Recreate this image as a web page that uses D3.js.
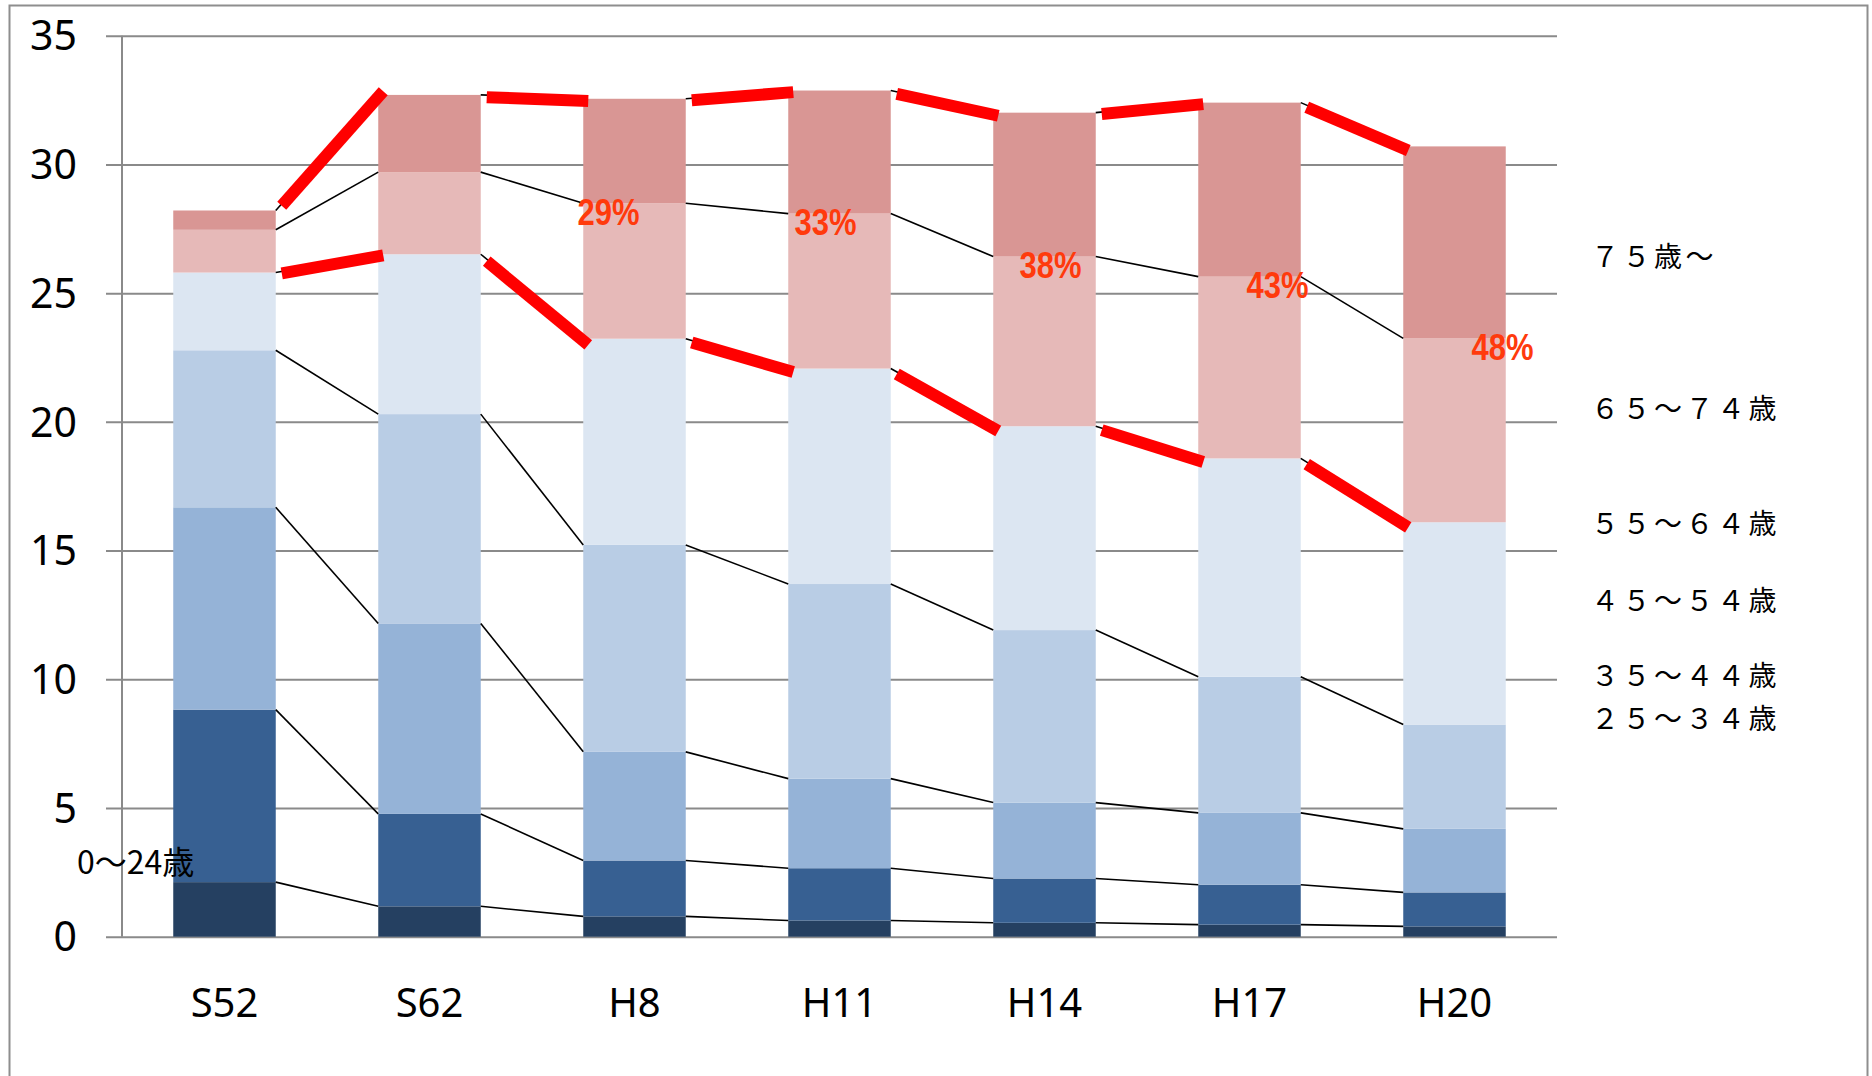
<!DOCTYPE html>
<html>
<head>
<meta charset="utf-8">
<script src="https://cdn.jsdelivr.net/npm/d3@7"></script>
<style>
  html, body { margin: 0; padding: 0; background: #fff; }
  svg { display: block; }
</style>
</head>
<body>
<svg id="chart" width="1872" height="1076"></svg>
<script>
// Survey years (Japanese era notation)
const years = ["S52", "S62", "H8", "H11", "H14", "H17", "H20"];

// Age groups, bottom of each stack to top
const ageGroups = ["0～24歳", "25～34歳", "35～44歳", "45～54歳", "55～64歳", "65～74歳", "75歳～"];

// Values per age group for each year
const age0to24   = [2.12, 1.18, 0.79, 0.63, 0.54, 0.47, 0.40];
const age25to34  = [6.70, 3.59, 2.17, 2.03, 1.72, 1.55, 1.32];
const age35to44  = [7.86, 7.40, 4.22, 3.48, 2.95, 2.79, 2.47];
const age45to54  = [6.10, 8.13, 8.04, 7.56, 6.70, 5.29, 4.05];
const age55to64  = [3.02, 6.21, 8.01, 8.37, 7.92, 8.48, 7.86];
const age65to74  = [1.66, 3.19, 5.26, 6.02, 6.59, 7.06, 7.14];
const age75plus  = [0.75, 3.00, 4.06, 4.78, 5.59, 6.76, 7.46];

// Y axis ticks
const yTicks = [0, 5, 10, 15, 20, 25, 30, 35];

// Years that carry a 65+ share label
const shareYears = ["H8", "H11", "H14", "H17", "H20"];

// Right-hand group captions (top to bottom) and the caption beside the first bar
const sideCaptions = ["７５歳～", "６５～７４歳", "５５～６４歳", "４５～５４歳", "３５～４４歳", "２５～３４歳"];
const firstBarCaption = "0～24歳";

// ---------- layout ----------
const colors = ["#254061", "#376092", "#95b3d7", "#b9cde5", "#dce6f2", "#e6b9b8", "#d99694"];
const plot = { left: 122, right: 1557, top: 35.7, bottom: 936.7 };
const shareDx = [-26, -14, 6, 28, 48];               // horizontal nudge for each share label
const sideCaptionY = [267, 419, 534, 611, 686, 729];  // baselines of the right-hand captions

const seriesArrays = [age0to24, age25to34, age35to44, age45to54, age55to64, age65to74, age75plus];
const table = years.map((yr, i) => {
  const row = { year: yr };
  ageGroups.forEach((g, k) => { row[g] = seriesArrays[k][i]; });
  return row;
});

const svg = d3.select("#chart");

const x = d3.scaleBand()
  .domain(years)
  .range([plot.left, plot.right])
  .paddingInner(0.5)
  .paddingOuter(0.25);

const y = d3.scaleLinear()
  .domain([0, 35])
  .range([plot.bottom, plot.top]);

// outer frame
svg.append("rect")
  .attr("x", 9.5).attr("y", 5.5)
  .attr("width", 1858).attr("height", 1100)
  .attr("fill", "none")
  .attr("stroke", "#8e8e8e")
  .attr("stroke-width", 2);

// gridlines with outside tick marks
const yAxis = d3.axisLeft(y)
  .tickValues(yTicks)
  .tickSize(-(plot.right - plot.left))
  .tickFormat("");
const gGrid = svg.append("g")
  .attr("transform", `translate(${plot.left},0)`)
  .call(yAxis);
gGrid.select(".domain").remove();
gGrid.selectAll(".tick line")
  .attr("x1", -16)
  .attr("stroke", "#8a8a8a")
  .attr("stroke-width", 2);

// vertical axis line
svg.append("line")
  .attr("x1", plot.left).attr("x2", plot.left)
  .attr("y1", y(35)).attr("y2", y(0))
  .attr("stroke", "#8a8a8a")
  .attr("stroke-width", 2);

// tick labels
svg.append("g").selectAll("text")
  .data(yTicks)
  .join("text")
  .attr("x", 77)
  .attr("y", d => y(d))
  .attr("dy", "0.36em")
  .attr("text-anchor", "end")
  .attr("font-family", "'Noto Sans', 'Open Sans', sans-serif")
  .attr("font-size", 41)
  .attr("fill", "#000")
  .text(d => d);

// stacked bars
const stack = d3.stack().keys(ageGroups);
const layers = stack(table);

svg.append("g").selectAll("g")
  .data(layers)
  .join("g")
  .attr("fill", (d, i) => colors[i])
  .selectAll("rect")
  .data(d => d)
  .join("rect")
  .attr("x", d => x(d.data.year))
  .attr("width", x.bandwidth())
  .attr("y", d => y(d[1]))
  .attr("height", d => y(d[0]) - y(d[1]));

// thin connectors between the segment boundaries of neighbouring bars
const gConn = svg.append("g")
  .attr("stroke", "#000")
  .attr("stroke-width", 1.6)
  .attr("fill", "none");
layers.forEach(layer => {
  for (let i = 0; i < years.length - 1; i++) {
    gConn.append("line")
      .attr("x1", x(years[i]) + x.bandwidth())
      .attr("y1", y(layer[i][1]))
      .attr("x2", x(years[i + 1]))
      .attr("y2", y(layer[i + 1][1]));
  }
});

// bold red trend lines: total and 65+ boundary
const totalLayer = layers[layers.length - 1];
const elderBase = layers[4];
const gRed = svg.append("g")
  .attr("stroke", "#ff0000")
  .attr("stroke-width", 12)
  .attr("stroke-linecap", "butt");
[totalLayer, elderBase].forEach(layer => {
  for (let i = 0; i < years.length - 1; i++) {
    const xa = x(years[i]) + x.bandwidth();
    const xb = x(years[i + 1]);
    const ya = y(layer[i][1]);
    const yb = y(layer[i + 1][1]);
    const at = xx => ya + (yb - ya) * (xx - xa) / (xb - xa);
    const s = xa + 6, e = xb + 5;
    gRed.append("line")
      .attr("x1", s).attr("y1", at(s) + 2)
      .attr("x2", e).attr("y2", at(e) + 2);
  }
});

// share of 65+ in each later year (tall, condensed lettering)
svg.append("g").selectAll("text")
  .data(shareYears)
  .join("text")
  .attr("x", (d, k) => x(d) + x.bandwidth() / 2 + shareDx[k])
  .attr("y", d => y(layers[5][years.indexOf(d)][1]))
  .attr("dy", "0.6em")
  .attr("text-anchor", "middle")
  .attr("font-family", "'Liberation Sans', Arial, sans-serif")
  .attr("font-weight", "bold")
  .attr("font-size", 36)
  .attr("textLength", 62)
  .attr("lengthAdjust", "spacingAndGlyphs")
  .attr("fill", "#ff3a0c")
  .text(d => {
    const i = years.indexOf(d);
    const total = totalLayer[i][1];
    return Math.round((total - elderBase[i][1]) / total * 100) + "%";
  });

// category labels
svg.append("g").selectAll("text")
  .data(years)
  .join("text")
  .attr("x", d => x(d) + x.bandwidth() / 2)
  .attr("y", 1017)
  .attr("text-anchor", "middle")
  .attr("font-family", "'Noto Sans', 'Open Sans', sans-serif")
  .attr("font-size", 40)
  .attr("fill", "#000")
  .text(d => d);

// captions for the age groups
svg.append("g").selectAll("text")
  .data(sideCaptions)
  .join("text")
  .attr("x", 1591)
  .attr("y", (d, i) => sideCaptionY[i])
  .attr("font-family", "'Noto Sans CJK JP', sans-serif")
  .attr("font-size", 28)
  .attr("letter-spacing", 3.5)
  .attr("fill", "#000")
  .text(d => d);

svg.append("text")
  .attr("x", 77)
  .attr("y", 874)
  .attr("font-family", "'Noto Sans CJK JP', sans-serif")
  .attr("font-size", 32)
  .attr("fill", "#000")
  .text(firstBarCaption);
</script>
</body>
</html>
